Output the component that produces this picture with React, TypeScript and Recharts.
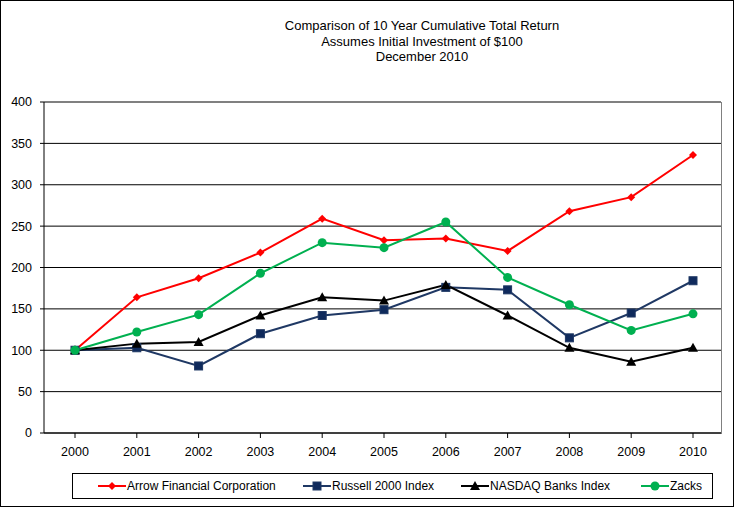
import React from "react";
import { LineChart, Line, XAxis, YAxis, CartesianGrid } from "recharts";

// Cumulative total return, $100 invested at end of 2000
const years = ["2000", "2001", "2002", "2003", "2004", "2005", "2006", "2007", "2008", "2009", "2010"];
const arrowValues = [100, 164, 187, 218, 259, 233, 235, 220, 268, 285, 336];
const russellValues = [100, 103, 81, 120, 142, 149, 176, 173, 115, 145, 184];
const nasdaqBanksValues = [100, 108, 110, 142, 164, 160, 179, 142, 103, 86, 103];
const zacksValues = [100, 122, 143, 193, 230, 224, 255, 188, 155, 124, 144];
const yTicks = [0, 50, 100, 150, 200, 250, 300, 350, 400];
const titleLines = [
  "Comparison of 10 Year Cumulative Total Return",
  "Assumes Initial Investment of $100",
  "December 2010",
];

const FONT = "'Liberation Sans', Arial, sans-serif";

type Shape = "diamond" | "square" | "triangle" | "circle";

const series: { key: string; name: string; color: string; fill: string; shape: Shape }[] = [
  { key: "arrow", name: "Arrow Financial Corporation", color: "#FF0000", fill: "#FF0000", shape: "diamond" },
  { key: "russell", name: "Russell 2000 Index", color: "#1F3864", fill: "#0F2A5C", shape: "square" },
  { key: "nasdaq", name: "NASDAQ Banks Index", color: "#000000", fill: "#000000", shape: "triangle" },
  { key: "zacks", name: "Zacks", color: "#00B050", fill: "#00B050", shape: "circle" },
];

const data = years.map((year, i) => ({
  year,
  arrow: arrowValues[i],
  russell: russellValues[i],
  nasdaq: nasdaqBanksValues[i],
  zacks: zacksValues[i],
}));

function Marker({ shape, cx, cy, color, fill }: { shape: Shape; cx: number; cy: number; color: string; fill: string }) {
  if (shape === "diamond")
    return <polygon points={`${cx},${cy - 4} ${cx + 4},${cy} ${cx},${cy + 4} ${cx - 4},${cy}`} fill={fill} />;
  if (shape === "square")
    return <rect x={cx - 4} y={cy - 4} width={8} height={8} fill={fill} stroke={color} strokeWidth={1} />;
  if (shape === "triangle")
    return <polygon points={`${cx},${cy - 5} ${cx + 5},${cy + 4} ${cx - 5},${cy + 4}`} fill={fill} />;
  return <circle cx={cx} cy={cy} r={4.5} fill={fill} />;
}

function makeDot(s: (typeof series)[number]) {
  return (props: any) => {
    const { cx, cy, index } = props;
    return <Marker key={`${s.key}-${index}`} shape={s.shape} cx={cx} cy={cy} color={s.color} fill={s.fill} />;
  };
}

export default function App() {
  return (
    <div
      style={{
        position: "relative",
        width: 734,
        height: 507,
        boxSizing: "border-box",
        border: "1px solid #000",
        background: "#fff",
        fontFamily: FONT,
      }}
    >
      <style>{`body{margin:0}`}</style>

      {/* Title block */}
      <div
        style={{
          position: "absolute",
          left: 221,
          top: 17,
          width: 400,
          textAlign: "center",
          fontSize: 13,
          lineHeight: "15.5px",
          color: "#000",
        }}
      >
        {titleLines.map((t) => (
          <div key={t}>{t}</div>
        ))}
      </div>

      <LineChart
        width={732}
        height={505}
        data={data}
        margin={{ top: 101, right: 12, left: 0, bottom: 43 }}
      >
        <CartesianGrid horizontal vertical={false} stroke="#000" strokeWidth={1} />
        <XAxis
          dataKey="year"
          stroke="#000"
          padding={{ left: 31, right: 28 }}
          tick={{ fontSize: 12.5, fill: "#000", fontFamily: FONT }}
          tickSize={5}
          tickMargin={9}
          height={30}
        />
        <YAxis
          domain={[0, 400]}
          ticks={yTicks}
          interval={0}
          stroke="#000"
          tick={{ fontSize: 12.5, fill: "#000", fontFamily: FONT }}
          tickSize={4}
          tickMargin={8}
          width={43}
        />
        {series.map((s) => (
          <Line
            key={s.key}
            type="linear"
            dataKey={s.key}
            name={s.name}
            stroke={s.color}
            strokeWidth={2}
            dot={makeDot(s)}
            activeDot={false}
            isAnimationActive={false}
          />
        ))}
      </LineChart>

      {/* Plot area frame (top and right edges) */}
      <div
        style={{
          position: "absolute",
          left: 44,
          top: 101,
          width: 676,
          height: 331,
          borderTop: "1px solid #808080",
          borderRight: "1px solid #808080",
          pointerEvents: "none",
        }}
      />

      {/* Legend */}
      <div
        style={{
          position: "absolute",
          left: 71,
          top: 472,
          width: 641,
          height: 26,
          border: "1px solid #000",
          boxSizing: "border-box",
          fontSize: 12,
        }}
      >
        {series.map((s, i) => {
          const lefts = [25, 230, 388, 568];
          return (
            <div
              key={s.key}
              style={{ position: "absolute", left: lefts[i], top: 4, display: "flex", alignItems: "center", whiteSpace: "nowrap" }}
            >
              <svg width={28} height={16}>
                <line x1={0} y1={8} x2={28} y2={8} stroke={s.color} strokeWidth={2} />
                <Marker shape={s.shape} cx={14} cy={8} color={s.color} fill={s.fill} />
              </svg>
              <span style={{ marginLeft: 1 }}>{s.name}</span>
            </div>
          );
        })}
      </div>
    </div>
  );
}
